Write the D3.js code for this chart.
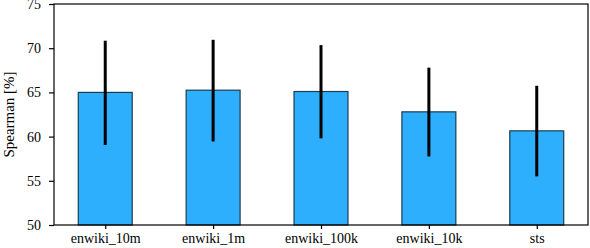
<!DOCTYPE html>
<html>
<head>
<meta charset="utf-8">
<script src="https://cdn.jsdelivr.net/npm/d3@7"></script>
<style>
  body { margin: 0; background: #fff; }
  text { font-family: "Liberation Serif", "DejaVu Serif", serif; }
</style>
</head>
<body>
<svg width="590" height="248"></svg>
<script>
// data
var categories = ["enwiki_10m", "enwiki_1m", "enwiki_100k", "enwiki_10k", "sts"];
var means = [65.0, 65.25, 65.1, 62.8, 60.65];
var errLow = [59.05, 59.45, 59.8, 57.75, 55.5];
var errHigh = [70.85, 70.95, 70.35, 67.8, 65.75];
var yTicks = [50, 55, 60, 65, 70, 75];

var svg = d3.select("svg"),
    margin = {top: 4, right: 2, bottom: 23, left: 54},
    width = 590 - margin.left - margin.right,
    height = 248 - margin.top - margin.bottom,
    g = svg.append("g").attr("transform", "translate(" + margin.left + "," + margin.top + ")");

// bar positions 0..4, width 0.5, with matplotlib-like 5% margins
var x = d3.scaleLinear().domain([-0.475, 4.475]).range([0, width]);
var y = d3.scaleLinear().domain([50, 75]).range([height, 0]);
var barW = x(0.5) - x(0);

// bars
g.selectAll(".bar")
  .data(means)
  .enter().append("rect")
    .attr("class", "bar")
    .attr("x", function(d, i) { return x(i) - barW / 2; })
    .attr("y", function(d) { return y(d); })
    .attr("width", barW)
    .attr("height", function(d) { return y(50) - y(d); })
    .attr("fill", "#2eaffd")
    .attr("stroke", "#1c3c50")
    .attr("stroke-width", 1.2);

// error bars
g.selectAll(".err")
  .data(means)
  .enter().append("line")
    .attr("class", "err")
    .attr("x1", function(d, i) { return x(i); })
    .attr("x2", function(d, i) { return x(i); })
    .attr("y1", function(d, i) { return y(errLow[i]); })
    .attr("y2", function(d, i) { return y(errHigh[i]); })
    .attr("stroke", "#000")
    .attr("stroke-width", 3);

// frame
g.append("rect")
  .attr("width", width)
  .attr("height", height)
  .attr("fill", "none")
  .attr("stroke", "#000")
  .attr("stroke-width", 1.2);

// axes
var xAxis = g.append("g")
  .attr("transform", "translate(0," + height + ")")
  .call(d3.axisBottom(x).tickValues(d3.range(categories.length))
    .tickFormat(function(i) { return categories[i]; })
    .tickSize(4).tickPadding(4));

var yAxis = g.append("g")
  .call(d3.axisLeft(y).tickValues(yTicks).tickSize(5).tickPadding(8));

[xAxis, yAxis].forEach(function(a) {
  a.select(".domain").remove();
  a.selectAll(".tick line").attr("stroke", "#000").attr("stroke-width", 1.2);
  a.selectAll(".tick text").attr("fill", "#000").style("font-size", "14px");
});

// y label
svg.append("text")
  .attr("transform", "translate(14," + (margin.top + height / 2) + ") rotate(-90)")
  .attr("text-anchor", "middle")
  .style("font-size", "15px")
  .text("Spearman [%]");
</script>
</body>
</html>
